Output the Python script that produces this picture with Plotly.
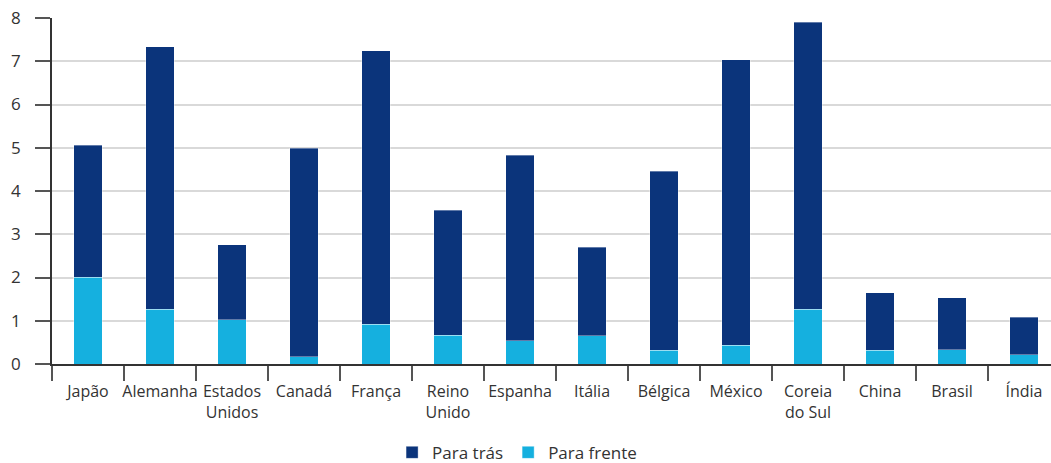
import plotly.graph_objects as go

countries = ["Japão", "Alemanha", "Estados<br>Unidos", "Canadá", "França", "Reino<br>Unido",
             "Espanha", "Itália", "Bélgica", "México", "Coreia<br>do Sul", "China", "Brasil", "Índia"]
total = [5.06, 7.33, 2.76, 4.99, 7.24, 3.56, 4.83, 2.70, 4.46, 7.03, 7.90, 1.65, 1.53, 1.08]
para_frente = [2.01, 1.27, 1.02, 0.17, 0.92, 0.66, 0.54, 0.65, 0.32, 0.43, 1.27, 0.32, 0.33, 0.21]
para_tras = [round(t - f, 2) for t, f in zip(total, para_frente)]

dark = "#0B347B"
light = "#15B0DF"
font_family = "Open Sans, Noto Sans, sans-serif"

fig = go.Figure()
fig.add_trace(go.Bar(x=countries, y=para_frente, name="Para frente", marker_color=light,
                     marker_line=dict(color="rgba(255,255,255,0.35)", width=1), width=0.4))
fig.add_trace(go.Bar(x=countries, y=para_tras, name="Para trás", marker_color=dark,
                     marker_line=dict(color="rgba(255,255,255,0.35)", width=1), width=0.4))

fig.update_layout(
    barmode="stack",
    width=1051, height=463,
    margin=dict(l=52, r=0, t=18, b=99, autoexpand=False),
    plot_bgcolor="white", paper_bgcolor="white",
    font=dict(family=font_family, size=16, color="#333333"),
    legend=dict(orientation="h", traceorder="reversed", xref="container", yref="container",
                x=0.492, xanchor="center", y=0.022, yanchor="middle",
                font=dict(size=17, color="#333333"), itemwidth=30),
    xaxis=dict(range=[-0.5, 13.375], showline=True, linecolor="#333333", linewidth=1.5,
               ticks="outside", tickson="boundaries", ticklen=15, tickcolor="#555555",
               tickwidth=1.5, showgrid=False, tickangle=0, automargin=False,
               ticklabeloverflow="allow",
               ticklabelstandoff=12, tickfont=dict(size=16, color="#333333")),
    yaxis=dict(range=[0, 8], dtick=1, showline=True, linecolor="#333333", linewidth=1.5,
               ticks="outside", ticklen=15, tickcolor="#555555", tickwidth=1.5, automargin=False,
               ticklabelstandoff=11, ticklabeloverflow="allow",
               showgrid=True, gridcolor="#d9d9d9", gridwidth=1.5, zeroline=False,
               tickfont=dict(size=17, color="#333333")),
)

fig.write_html("out.html", config={"displayModeBar": False},
               post_script="document.body.style.margin='0';")
